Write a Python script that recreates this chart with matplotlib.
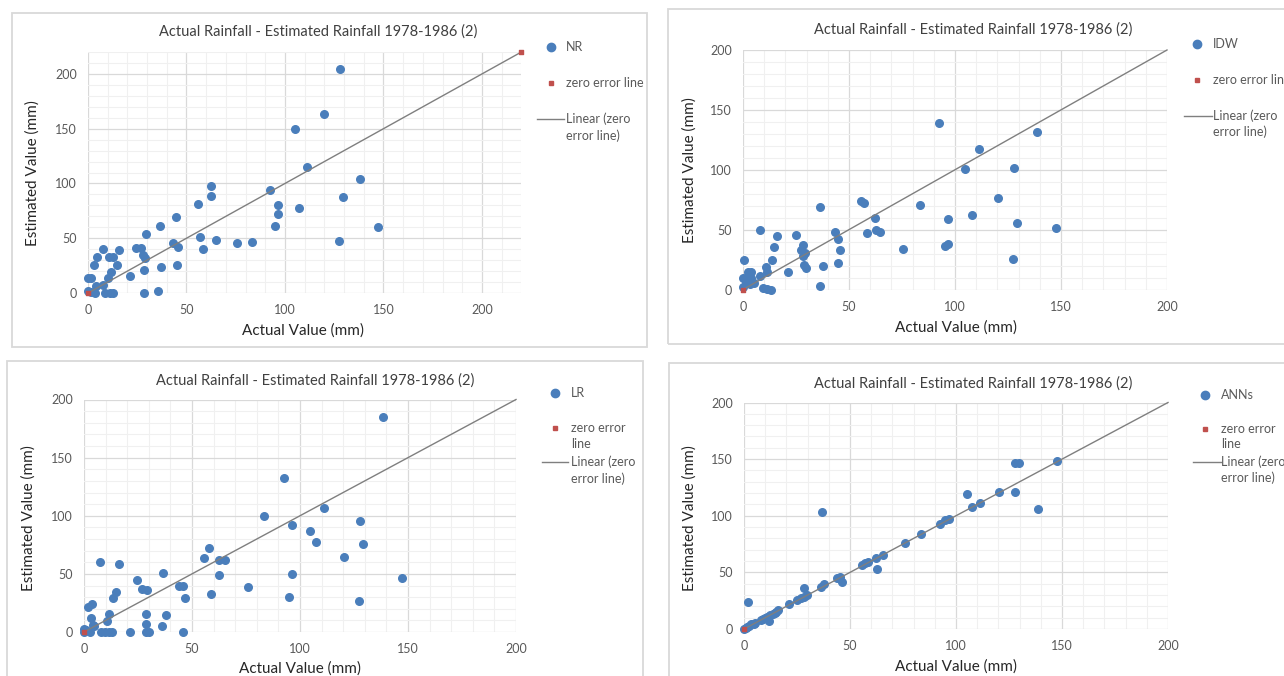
import numpy as np
import matplotlib
matplotlib.use("Agg")
import matplotlib.pyplot as plt
from matplotlib.patches import Rectangle
from matplotlib.lines import Line2D

# --------------------------------------------------------------------------
# Dados (mm)
# --------------------------------------------------------------------------
nr_actual = [0, 0, 1.7, 3, 4.4, 7.5, 10.7, 12.9, 15.9, 14.6, 11.5, 10.3, 7.8, 3.9, 1.7,
             3.4, 8.5, 11.2, 12.9, 21.2, 24.6, 27.1, 28.1, 29, 29.5, 28.5, 28.5, 36.4, 37.3,
             35.7, 44.6, 43.4, 45.9, 45.1, 55.6, 62.4, 62.2, 57, 58.3, 64.9, 75.6, 83, 92.4,
             95.1, 96.4, 96.4, 105.1, 107.2, 111, 119.9, 127.7, 127.5, 129.2, 138.3, 147.1]
nr_estimated = [1.5, 13.4, 14, 26, 33, 40, 33, 33, 39, 25.6, 19.5, 13.4, 7.3, 6.7, 1,
                0, 0, 0, 0, 15.5, 41.5, 41, 35, 32, 54.3, 21, 0, 61.6, 24,
                2, 69.8, 45.4, 42, 25.6, 81.4, 89, 97.3, 51.5, 40.2, 48, 45.7, 47, 94.2,
                61.3, 80.5, 72, 150, 78, 114.6, 163.7, 204.3, 47.6, 87.5, 103.7, 60.4]

idw_actual = [0.3, 0, 0, 1.5, 2.2, 4, 2.2, 4, 3.4, 5.3, 7.9, 7.9, 11, 11.5, 9.5, 11.5,
              13.1, 13.7, 14.8, 16.2, 21.3, 24.8, 28.3, 27.4, 29.4, 28.3, 28.7, 29.6, 36.4,
              36.1, 37.7, 43.5, 44.7, 45.8, 45, 55.5, 57, 62.2, 62.6, 64.8, 58.6, 75.5, 83.6,
              92.6, 95.4, 96.7, 96.5, 104.8, 107.8, 111.2, 120.2, 127.9, 127.5, 129.2, 138.6,
              147.6]
idw_estimated = [24.6, 9.5, 2, 6.4, 14.8, 14.8, 10.6, 9.2, 5, 5.6, 11.2, 49.7, 19, 14.8, 1.2,
                 0.5, 0, 24.6, 35.8, 44.7, 14.8, 45.3, 37.2, 33, 30.2, 28, 20.4, 17.6, 69.3,
                 2.8, 19.8, 47.8, 42.2, 33, 22.3, 73.5, 72, 59.5, 49.7, 48.3, 47, 33.5, 70.8,
                 139, 36.5, 38.4, 59, 100.3, 62.4, 117.3, 76.6, 101.4, 25.6, 55.7, 131.8,
                 51.5]

lr_actual = [0, 0, 1, 2.9, 1.9, 3.7, 3.4, 4, 4.6, 7.6, 8.1, 9.9, 11.8, 13, 10.7, 11.5,
             13.5, 14.6, 16.1, 21.1, 24.7, 27, 29.3, 28.6, 28.9, 28.6, 30.1, 36.6, 37.9, 36,
             44.1, 45.7, 46.6, 45.7, 55.7, 57.8, 62.4, 65.5, 62.7, 59, 75.9, 83.3, 92.5, 94.8,
             96.3, 96.3, 104.8, 107.5, 111.2, 120.2, 127.9, 127.1, 129, 138.5, 147.3]
lr_estimated = [2.9, 0, 1.5, 0, 21.7, 23.7, 11.7, 6, 5.2, 60.3, 0, 0, 0, 0, 9.4, 15.1,
                29.4, 34.6, 58.9, 0, 45.1, 36.9, 36, 15.4, 6.9, 0, 0, 51.1, 14.6, 5.1,
                39.7, 39.7, 28.9, 0, 63.7, 72.3, 61.7, 61.7, 48.9, 33.1, 38.9, 100.1, 132.3, 29.8,
                91.8, 49.9, 87.2, 77.2, 107, 64.8, 95.8, 26.4, 75.5, 185, 46.2]

ann_actual = [0, 0.8, 1.5, 2.5, 3.5, 4.5, 5, 1.7, 8, 9, 10, 11, 11.8, 12.5, 13.5, 14.5,
              15, 16.2, 21.4, 25, 27, 28.2, 29.7, 28.5, 36.1, 37.7, 36.8, 43.8, 45.1, 46.4,
              55.8, 57.3, 58.6, 62.5, 62.9, 65.4, 75.9, 83.6, 92.6, 95, 96.5, 105, 107.6,
              111.4, 120.2, 127.9, 127.7, 129.6, 138.8, 147.6]
ann_estimated = [0, 0.5, 2, 3, 4, 4.5, 5.5, 24.1, 8, 8.5, 10, 11, 7.4, 12, 13.5, 14.5,
                 15.3, 16.8, 22.4, 25.6, 27, 28.5, 30, 35.9, 36.8, 39.4, 103.2, 44.7, 46.2, 41.8,
                 56.5, 57.9, 59.4, 62.6, 52.9, 65.6, 75.9, 84.1, 92.6, 95.9, 96.8, 118.8, 108,
                 111.4, 120.6, 121.2, 146.8, 147, 105.6, 148.2]

# serie "zero error line" (pontos vermelhos), a mesma nos 4 graficos
zero_error = [0, 220]

# limite dos eixos de cada grafico
limite_nr = 220
limite = 200

TITULO = "Actual Rainfall - Estimated Rainfall 1978-1986 (2)"

W, H = 1284, 676
AZUL = "#4A7EBB"
VERMELHO = "#C0504D"
CINZA_TXT = "#595959"

plt.rcParams["font.family"] = ["Lato", "DejaVu Sans"]

fig = plt.figure(figsize=(W / 100, H / 100), dpi=100)


def fx(px):
    return px / W


def fy(py):
    return 1 - py / H


def painel(nome, actual, estimated, lim, lay):
    # moldura do grafico (estilo Excel)
    x0, y0, x1, y1 = lay["frame"]
    fig.add_artist(Rectangle((fx(x0), fy(y1)), fx(x1 - x0), (y1 - y0) / H,
                             transform=fig.transFigure, fill=False,
                             edgecolor="#D9D9D9", lw=1.3))

    # area de plotagem
    px0, px1, py0, py1 = lay["plot"]  # pixel do valor 0 e do valor maximo
    ax = fig.add_axes([fx(px0), fy(py0), fx(px1 - px0), (py0 - py1) / H])
    ax.set_xlim(0, lim)
    ax.set_ylim(0, lim)
    ax.set_xticks(np.arange(0, lim + 1, 50))
    ax.set_yticks(np.arange(0, lim + 1, 50))
    ax.set_xticks(np.arange(0, lim + 1, 10), minor=True)
    ax.set_yticks(np.arange(0, lim + 1, 10), minor=True)
    ax.grid(True, which="major", color="#D9D9D9", lw=0.9)
    ax.grid(True, which="minor", color="#F0F0F0", lw=0.8)
    ax.set_axisbelow(True)
    for s in ax.spines.values():
        s.set_visible(False)
    ax.tick_params(which="both", length=0, colors=CINZA_TXT, labelsize=9, pad=8)

    ax.scatter(actual, estimated, s=30, color=AZUL, zorder=3, clip_on=False)

    # linha de tendencia linear da serie zero error (cortada no limite do eixo)
    coef = np.polyfit(zero_error, zero_error, 1)
    xs = np.array([0, lim])
    ax.plot(xs, np.polyval(coef, xs), color="#7F7F7F", lw=1.0, zorder=4, clip_on=False)
    ze = [v for v in zero_error if v <= lim]
    ax.scatter(ze, ze, s=9, marker="s", color=VERMELHO, zorder=5, clip_on=False)

    # textos
    fig.text(fx(lay["title"][0]), fy(lay["title"][1]), TITULO, ha="center", va="center",
             fontsize=10.5, color="#404040")
    fig.text(fx(lay["xlabel"][0]), fy(lay["xlabel"][1]), "Actual Value (mm)", ha="center",
             va="center", fontsize=11, color="#262626")
    fig.text(fx(lay["ylabel"][0]), fy(lay["ylabel"][1]), "Estimated Value (mm)", ha="center",
             va="center", rotation=90, fontsize=11, color="#262626")

    # legenda
    lx, ltx = lay["leg_x"]
    ly_nome, zero_linhas, lin_linhas = lay["leg_y"]
    fig.add_artist(Line2D([fx(lx)], [fy(ly_nome)], marker="o", ms=6, color=AZUL, lw=0,
                          transform=fig.transFigure))
    fig.text(fx(ltx), fy(ly_nome), nome, va="center", fontsize=9, color=CINZA_TXT)
    fig.add_artist(Line2D([fx(lx)], [fy(zero_linhas[0][1])], marker="s", ms=2.5,
                          color=VERMELHO, lw=0, transform=fig.transFigure))
    for txt, yy in zero_linhas:
        fig.text(fx(ltx), fy(yy), txt, va="center", fontsize=9, color=CINZA_TXT)
    fig.add_artist(Line2D([fx(lay["leg_line"][0]), fx(lay["leg_line"][1])],
                          [fy(lin_linhas[0][1])] * 2, color="#7F7F7F", lw=1.0,
                          transform=fig.transFigure))
    for txt, yy in lin_linhas:
        fig.text(fx(ltx), fy(yy), txt, va="center", fontsize=9, color=CINZA_TXT)
    return ax


layouts = {
    "NR": dict(frame=(12, 13, 647, 347), plot=(88, 521.4, 293, 52), title=(318, 32),
               xlabel=(303, 331), ylabel=(33, 173), leg_x=(551, 566),
               leg_line=(537, 564),
               leg_y=(47, [("zero error line", 83)],
                      [("Linear (zero", 119), ("error line)", 136)])),
    "IDW": dict(frame=(668, 9, 1295, 344), plot=(743, 1167, 289.5, 50), title=(973, 30),
                xlabel=(956, 328), ylabel=(690, 170), leg_x=(1197, 1213),
                leg_line=(1184, 1212),
                leg_y=(44, [("zero error line", 80)],
                       [("Linear (zero", 116), ("error line)", 132)])),
    "LR": dict(frame=(7, 361, 643, 690), plot=(84, 516, 632, 399.5), title=(315, 381),
               xlabel=(300, 669), ylabel=(29, 518), leg_x=(555, 571),
               leg_line=(542, 568),
               leg_y=(393, [("zero error", 428), ("line", 444)],
                      [("Linear (zero", 462), ("error line)", 479)])),
    "ANNs": dict(frame=(669, 363, 1295, 690), plot=(744, 1168, 629, 402.5), title=(973, 384),
                 xlabel=(956, 667), ylabel=(690, 518), leg_x=(1205, 1221),
                 leg_line=(1193, 1221),
                 leg_y=(395, [("zero error", 429), ("line", 444)],
                        [("Linear (zero", 462), ("error line)", 478)])),
}

painel("NR", nr_actual, nr_estimated, limite_nr, layouts["NR"])
painel("IDW", idw_actual, idw_estimated, limite, layouts["IDW"])
painel("LR", lr_actual, lr_estimated, limite, layouts["LR"])
painel("ANNs", ann_actual, ann_estimated, limite, layouts["ANNs"])

fig.savefig("out.png", dpi=100)
